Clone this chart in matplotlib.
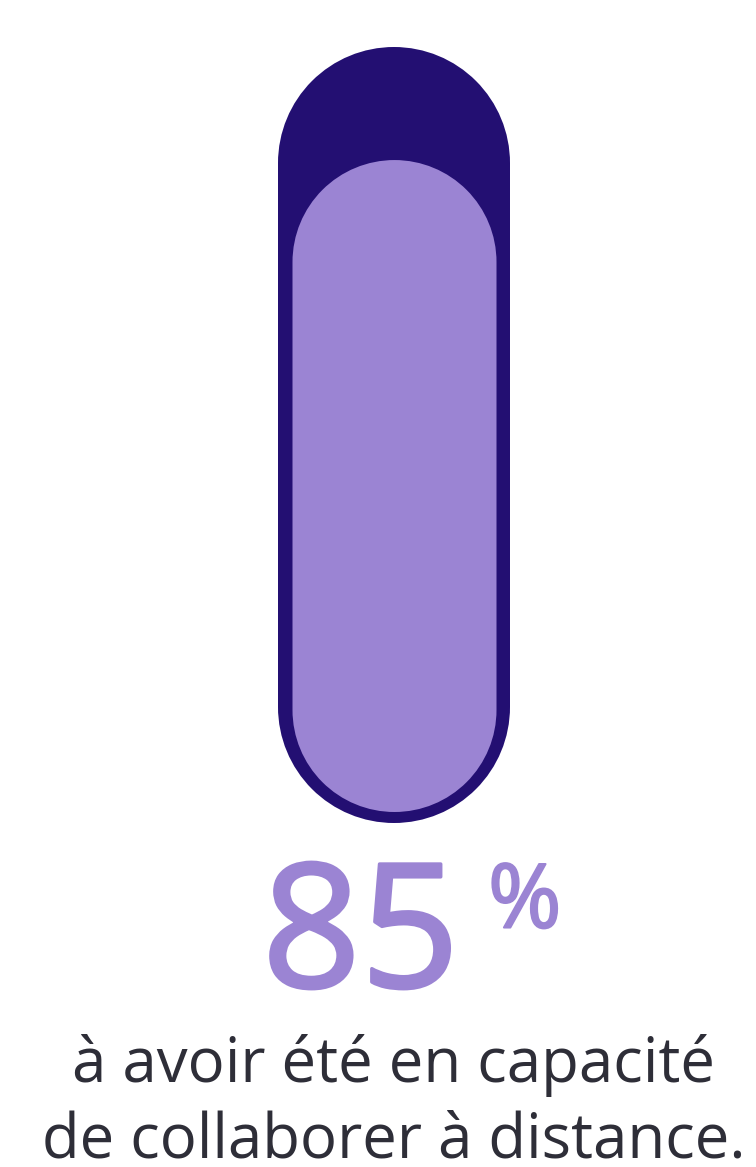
import matplotlib
matplotlib.use("Agg")
import numpy as np
import matplotlib.pyplot as plt
import matplotlib.patheffects as pe
from matplotlib.path import Path
from matplotlib.patches import PathPatch

# data
value = 85
value_label = "85"
unit_label = "%"
caption_lines = ["à avoir été en capacité", "de collaborer à distance."]

dark = "#230F72"
light = "#9B84D3"
text_col = "#2E2E38"


def capsule(x, y, w, h, color):
    # vertical pill: semicircle on top and bottom
    r = w / 2
    cx = x + r
    top = Path.arc(0, 180)
    bot = Path.arc(180, 360)
    v_top = top.vertices * r + [cx, y + h - r]
    v_bot = bot.vertices * r + [cx, y + r]
    c_bot = bot.codes.copy()
    c_bot[0] = Path.LINETO
    verts = np.vstack([v_top, v_bot, v_top[:1]])
    codes = np.concatenate([top.codes, c_bot, [Path.CLOSEPOLY]])
    return PathPatch(Path(verts, codes), fc=color, ec="none")


W, H = 756, 1167
fig = plt.figure(figsize=(W / 100, H / 100), dpi=100)
ax = fig.add_axes([0, 0, 1, 1])
ax.set_xlim(0, W)
ax.set_ylim(0, H)
ax.axis("off")

# outer pill (track)
outer_x, outer_w = 278, 232
outer_bottom, outer_h = 344, 776
ax.add_patch(capsule(outer_x, outer_bottom, outer_w, outer_h, dark))

# inner pill (value)
inner_x, inner_w = 292.5, 204
fill_bottom = 355
full_h = 767  # height that would be 100 %
fill_h = full_h * value / 100
ax.add_patch(capsule(inner_x, fill_bottom, inner_w, fill_h, light))

font = ["Open Sans", "DejaVu Sans"]
bold = [pe.withStroke(linewidth=2.5, foreground=light)]
ax.text(459, H - 987, value_label, color=light, fontsize=124, family=font,
        ha="right", va="baseline", path_effects=bold)
ax.text(488, H - 859, unit_label, color=light, fontsize=64, family=font,
        ha="left", va="top", path_effects=[pe.withStroke(linewidth=1.5, foreground=light)])
ax.text(394, H - 1082, caption_lines[0], color=text_col, fontsize=44.5, family=font,
        ha="center", va="baseline")
ax.text(394, H - 1158, caption_lines[1], color=text_col, fontsize=44.5, family=font,
        ha="center", va="baseline")

fig.savefig("out.png", dpi=100, facecolor="white")
